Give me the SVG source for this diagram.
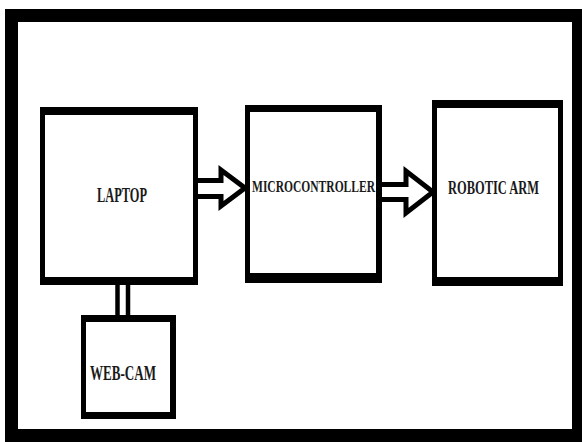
<svg xmlns="http://www.w3.org/2000/svg" width="582" height="442" viewBox="0 0 582 442">
<style>
.frame{fill:#000}
.inner{fill:#fff}
.lbl{font-family:"Liberation Serif","Times New Roman",serif;fill:#1a1a1a;font-weight:bold}
.arrow{fill:#fff;stroke:#000;stroke-width:5;stroke-linejoin:miter;stroke-miterlimit:10}
.link{stroke:#000;stroke-width:4.5;fill:none}
</style>
<rect x="0" y="0" width="582" height="442" fill="#fff"/>
<g id="border">
<rect class="frame" x="5" y="9" width="577" height="433"/>
<rect class="inner" x="18" y="22" width="554" height="407"/>
</g>
<g id="connectors">
<path class="arrow" d="M198,180.5 H221 V170 L245,188 L221,206 V196.5 H198"/>
<path class="arrow" d="M382,184.5 H406 V171 L433,192 L406,213 V199.5 H382"/>
<line class="link" x1="117.5" y1="284" x2="117.5" y2="316"/>
<line class="link" x1="128" y1="284" x2="128" y2="316"/>
</g>
<g id="laptop">
<rect class="frame" x="40" y="107" width="158" height="178"/>
<rect class="inner" x="45" y="115" width="148" height="162"/>
<text class="lbl" x="97" y="202" font-size="20" textLength="50" lengthAdjust="spacingAndGlyphs">LAPTOP</text>
</g>
<g id="microcontroller">
<rect class="frame" x="245" y="105" width="137" height="178"/>
<rect class="inner" x="250" y="112" width="126" height="161"/>
<text class="lbl" x="252" y="192" font-size="16" textLength="123" lengthAdjust="spacingAndGlyphs">MICROCONTROLLER</text>
</g>
<g id="robotic-arm">
<rect class="frame" x="432" y="100" width="131" height="186"/>
<rect class="inner" x="437" y="108" width="121" height="169"/>
<text class="lbl" x="448" y="194" font-size="18" textLength="91" lengthAdjust="spacingAndGlyphs">ROBOTIC ARM</text>
</g>
<g id="web-cam">
<rect class="frame" x="81" y="315" width="95" height="104"/>
<rect class="inner" x="86" y="322" width="84" height="90"/>
<text class="lbl" x="90" y="380" font-size="20" textLength="66" lengthAdjust="spacingAndGlyphs">WEB-CAM</text>
</g>
</svg>
